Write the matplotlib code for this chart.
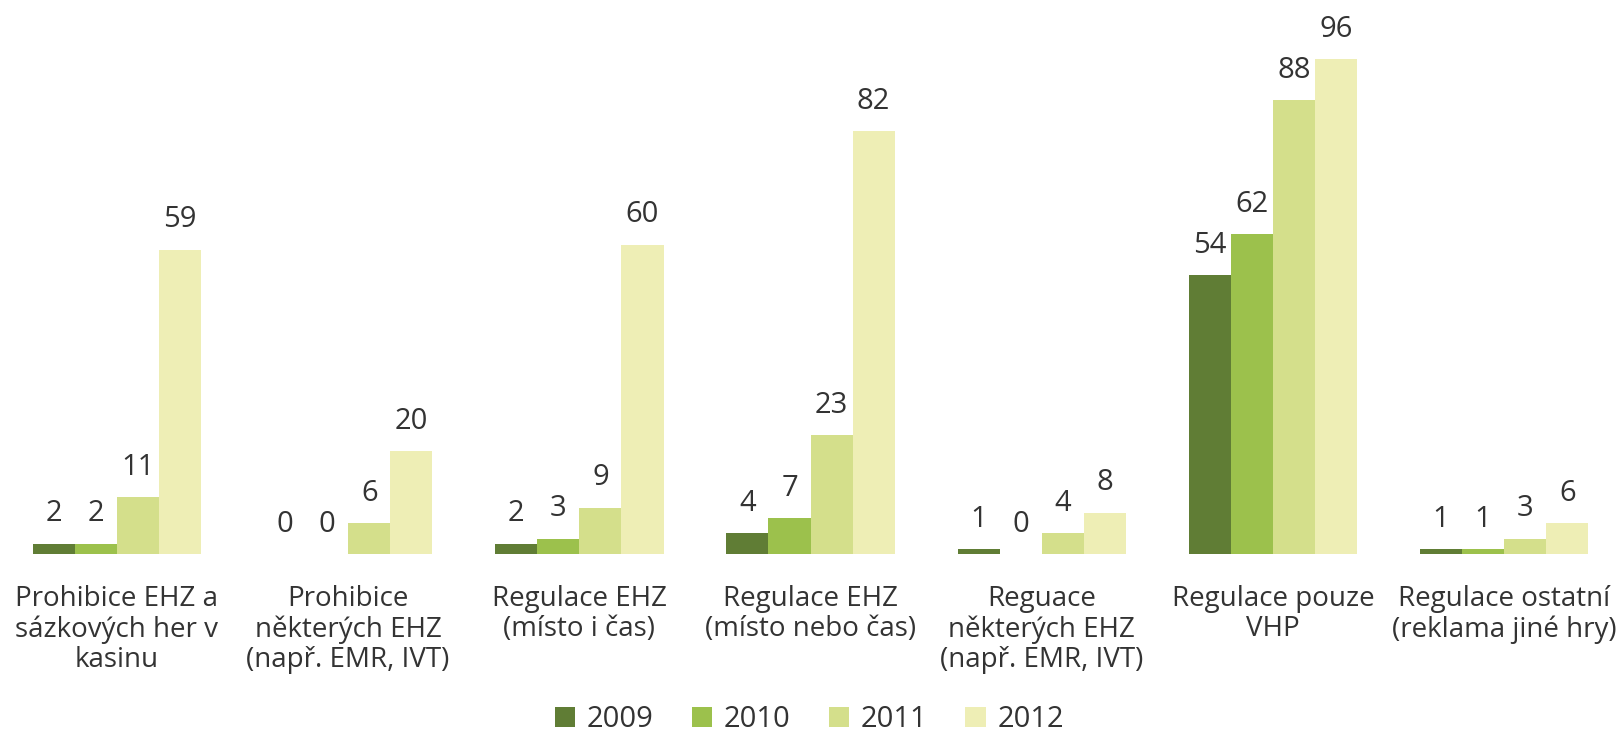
import numpy as np
import matplotlib.pyplot as plt

plt.rcParams['font.family'] = ['Open Sans', 'DejaVu Sans']

categories = ['Prohibice EHZ a\nsázkových her v\nkasinu',
              'Prohibice\nněkterých EHZ\n(např. EMR, IVT)',
              'Regulace EHZ\n(místo i čas)',
              'Regulace EHZ\n(místo nebo čas)',
              'Reguace\nněkterých EHZ\n(např. EMR, IVT)',
              'Regulace pouze\nVHP',
              'Regulace ostatní\n(reklama jiné hry)']
years = ['2009', '2010', '2011', '2012']
v2009 = [2, 0, 2, 4, 1, 54, 1]
v2010 = [2, 0, 3, 7, 0, 62, 1]
v2011 = [11, 6, 9, 23, 4, 88, 3]
v2012 = [59, 20, 60, 82, 8, 96, 6]
colors = ['#607d35', '#9cc14c', '#d4df8b', '#eeeeb5']

fig = plt.figure(figsize=(16.19, 7.5), dpi=100)
ax = fig.add_axes([0, 0.2613, 1, 0.7387])

x = np.arange(len(categories))
w = 0.182
for i, vals in enumerate([v2009, v2010, v2011, v2012]):
    pos = x + (i - 1.5) * w
    ax.bar(pos, vals, width=w, color=colors[i], label=years[i])
    for p, v in zip(pos, vals):
        ax.annotate(str(v), (p, v), xytext=(0, 11), textcoords='offset points',
                    ha='center', va='bottom', fontsize=21, color='#333333')

ax.set_xlim(-0.506, 6.497)
ax.set_ylim(0, 107.4)
ax.set_xticks(x)
ax.set_xticklabels(categories, fontsize=20, color='#333333', linespacing=1.12, va='top')
ax.tick_params(axis='x', length=0, pad=22)
ax.set_yticks([])
for s in ax.spines.values():
    s.set_visible(False)

fig.legend(loc='lower center', bbox_to_anchor=(0.5, 0.0), ncol=4, frameon=False,
           fontsize=21, handlelength=0.7, handleheight=0.7, handletextpad=0.4,
           columnspacing=1.3, labelcolor='#333333', borderpad=0.05)

fig.savefig('out.png')
